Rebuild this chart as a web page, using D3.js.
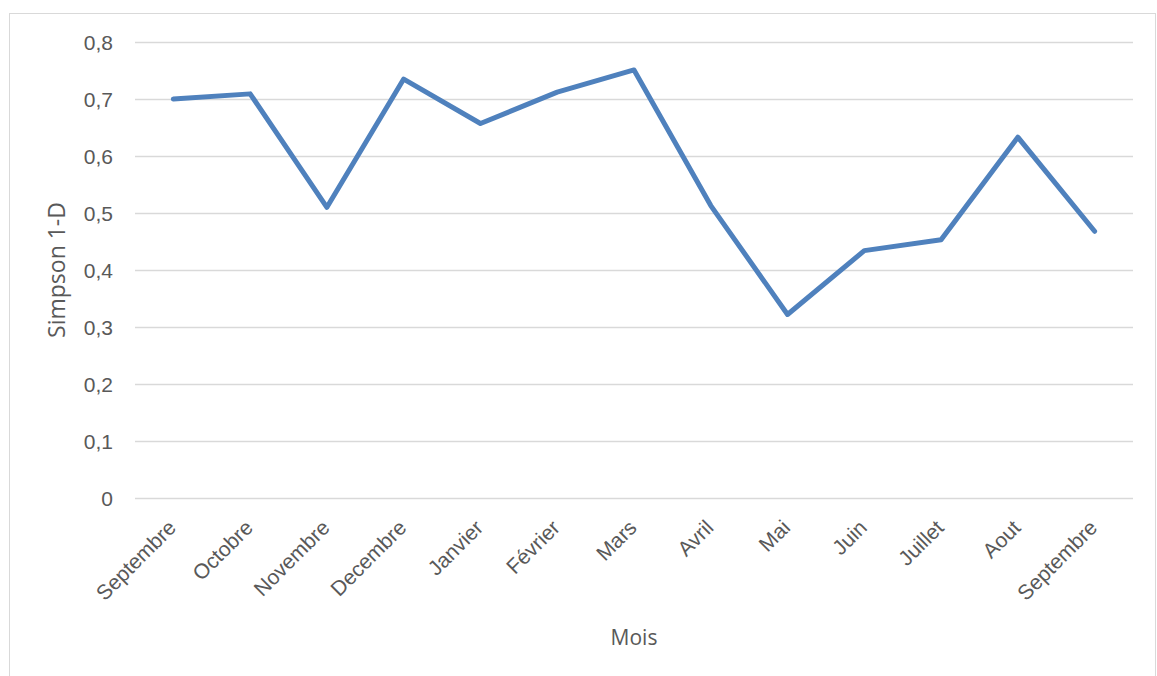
<!DOCTYPE html>
<html>
<head>
<meta charset="utf-8">
<script src="https://cdn.jsdelivr.net/npm/d3@7"></script>
<style>
  html, body { margin: 0; padding: 0; background: #fff; }
  svg { display: block; font-family: "Open Sans", "Liberation Sans", sans-serif; }
</style>
</head>
<body>
<svg id="chart" width="1157" height="676"></svg>
<script>
// Monthly Simpson diversity index (1-D)
const months = ["Septembre", "Octobre", "Novembre", "Decembre", "Janvier", "Février",
                "Mars", "Avril", "Mai", "Juin", "Juillet", "Aout", "Septembre"];
const simpson = [0.700, 0.709, 0.510, 0.735, 0.657, 0.712, 0.751,
                 0.513, 0.322, 0.434, 0.453, 0.633, 0.468];
const yTicks = [0, 0.1, 0.2, 0.3, 0.4, 0.5, 0.6, 0.7, 0.8];

const svg = d3.select("#chart");
const W = 1157, H = 676;
const margin = { top: 42, right: 24, bottom: 178, left: 135 };
const innerW = W - margin.left - margin.right;
const innerH = H - margin.top - margin.bottom;

// outer chart frame
svg.append("rect")
  .attr("x", 9.5).attr("y", 13.5)
  .attr("width", W - 11).attr("height", H)
  .attr("fill", "#fff").attr("stroke", "#d9d9d9");

const g = svg.append("g").attr("transform", `translate(${margin.left},${margin.top})`);

const idx = months.map((d, i) => i);
const x = d3.scaleBand().domain(idx).range([0, innerW]);
const y = d3.scaleLinear().domain([0, 0.8]).range([innerH, 0]);
const fmt = v => d3.format(".1~f")(v).replace(".", ",");

// horizontal gridlines + y labels
const yAxis = d3.axisLeft(y).tickValues(yTicks).tickSize(-innerW).tickPadding(22).tickFormat(fmt);
const yg = g.append("g").call(yAxis);
yg.select(".domain").remove();
yg.selectAll(".tick line").attr("stroke", "#d9d9d9").attr("stroke-width", 1.3);
yg.selectAll(".tick text")
  .attr("fill", "#595959")
  .style("font-size", "21px")
  .attr("dy", "0.36em");

// category axis labels, rotated
const xAxis = d3.axisBottom(x).tickSize(0).tickFormat(i => months[i]);
const xg = g.append("g").attr("transform", `translate(0,${innerH})`).call(xAxis);
xg.select(".domain").remove();
xg.selectAll(".tick text")
  .attr("fill", "#595959")
  .style("font-size", "21px")
  .attr("text-anchor", "end")
  .attr("y", 0)
  .attr("dy", 0)
  .attr("transform", "translate(4,31) rotate(-45)");

// series line
const line = d3.line()
  .x((d, i) => x(i) + x.bandwidth() / 2)
  .y(d => y(d));
g.append("path")
  .datum(simpson)
  .attr("fill", "none")
  .attr("stroke", "#4f81bd")
  .attr("stroke-width", 5)
  .attr("stroke-linejoin", "round")
  .attr("stroke-linecap", "round")
  .attr("d", line);

// axis titles
svg.append("text")
  .attr("transform", `translate(65,${margin.top + innerH / 2 + 0}) rotate(-90)`)
  .attr("text-anchor", "middle")
  .attr("fill", "#595959")
  .style("font-size", "23px")
  .text("Simpson 1-D");
svg.append("text")
  .attr("x", margin.left + innerW / 2).attr("y", 645)
  .attr("text-anchor", "middle")
  .attr("fill", "#595959")
  .style("font-size", "21px")
  .text("Mois");
</script>
</body>
</html>
